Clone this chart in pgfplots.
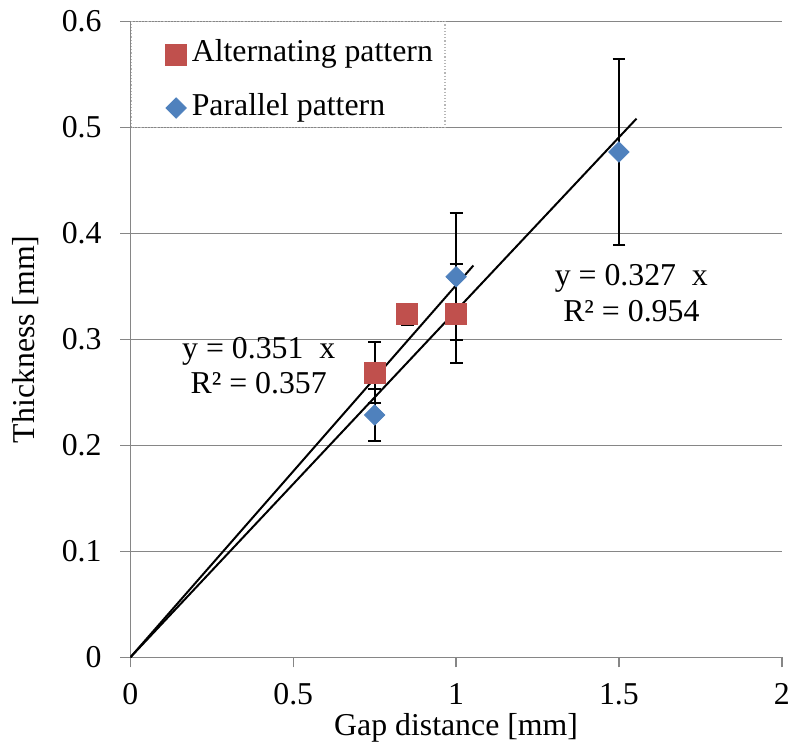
\documentclass[border=0pt]{standalone}
\usepackage{fontspec}
\setmainfont{Liberation Serif}
\usepackage{pgfplots}
\pgfplotsset{compat=1.18}
\usetikzlibrary{calc}
\definecolor{exred}{HTML}{C0504D}
\definecolor{exblue}{HTML}{4F81BD}
\definecolor{gridgray}{RGB}{134,134,134}
\begin{document}
\begin{tikzpicture}
\begin{axis}[
  width=325.7pt, height=318pt, scale only axis,
  xmin=0, xmax=2, ymin=0, ymax=0.6,
  xtick={0,0.5,1,1.5,2}, ytick={0,0.1,0.2,0.3,0.4,0.5,0.6},
  axis lines*=left,
  axis line style={draw=gridgray, line width=0.75pt},
  ymajorgrids, grid style={gridgray, line width=0.75pt},
  tick align=outside, major tick length=5pt,
  tick style={gridgray, line width=0.75pt},
  /pgf/number format/assume math mode=true,
  ticklabel style={font=\fontsize{15.9}{19}\selectfont},
  yticklabel style={inner sep=0pt, xshift=-9.2pt},
  xticklabel style={inner sep=0pt, yshift=-7.9pt},
  xlabel={Gap distance [mm]},
  ylabel={Thickness [mm]},
  label style={font=\fontsize{15.9}{19}\selectfont},
  xlabel style={at={(axis description cs:0.5,0)}, anchor=base, inner sep=0pt, yshift=-38.9pt},
  ylabel style={at={(axis description cs:0,0.5)}, anchor=base, inner sep=0pt, rotate=0, yshift=47.7pt},
  legend style={at={(rel axis cs:0,1)}, anchor=north west, draw=none, fill=none,
    inner xsep=0pt, inner ysep=0pt, xshift=17.4pt, yshift=-9pt,
    row sep=14pt, column sep=2.5pt,
    nodes={inner sep=0pt, anchor=base west},
    font=\fontsize{15.9}{19}\selectfont},
  legend cell align=left,
  legend image code/.code={\draw[#1] plot coordinates {(0pt,3.6pt)};},
]
\addplot[only marks, mark=square*, mark size=5.3pt, color=exred,
  mark options={fill=exred, draw=exred},
  error bars/.cd, y dir=both, y explicit,
  error bar style={black, line width=1pt},
  error mark options={rotate=90, mark size=3.2pt, black, line width=1pt}]
  coordinates {
  (0.75,0.2686) +- (0,0.0285)
  (0.85,0.3236) +- (0,0.010)
  (1.00,0.3242) +- (0,0.047)
  };
\addlegendentry{Alternating pattern}
\addplot[only marks, mark=square*, mark size=3.6pt, color=exblue,
  mark options={fill=exblue, draw=exblue, rotate=45},
  error bars/.cd, y dir=both, y explicit,
  error bar style={black, line width=1pt},
  error mark options={rotate=90, mark size=3.2pt, black, line width=1pt}]
  coordinates {
  (0.75,0.2286) +- (0,0.0245)
  (1.00,0.3590) +- (0,0.060)
  (1.50,0.4767) +- (0,0.0876)
  };
\addlegendentry{Parallel pattern}
\addplot[black, line width=1pt, forget plot] coordinates {(0,0) (1.053,0.3696)};
\addplot[black, line width=1pt, forget plot] coordinates {(0,0) (1.554,0.5082)};
\node[font=\fontsize{15.9}{19}\selectfont, anchor=base] at (axis cs:0.394,0.282) {y = 0.351\ \ x};
\node[font=\fontsize{15.9}{19}\selectfont, anchor=base] at (axis cs:0.394,0.2493) {R² = 0.357};
\node[font=\fontsize{15.9}{19}\selectfont, anchor=base] at (axis cs:1.538,0.3512) {y = 0.327\ \ x};
\node[font=\fontsize{15.9}{19}\selectfont, anchor=base] at (axis cs:1.538,0.3166) {R² = 0.954};
\draw[gridgray!60, line width=0.6pt, densely dotted] (axis cs:0.004,0.5) rectangle (axis cs:0.966,0.6);
\coordinate (ll) at (rel axis cs:0,0);
\coordinate (ur) at (rel axis cs:1,1);
\end{axis}
\pgfresetboundingbox
\path[use as bounding box] ($(ll)+(-65.2pt,-45.85pt)$) rectangle ($(ur)+(4.1pt,10.65pt)$);
\end{tikzpicture}
\end{document}
